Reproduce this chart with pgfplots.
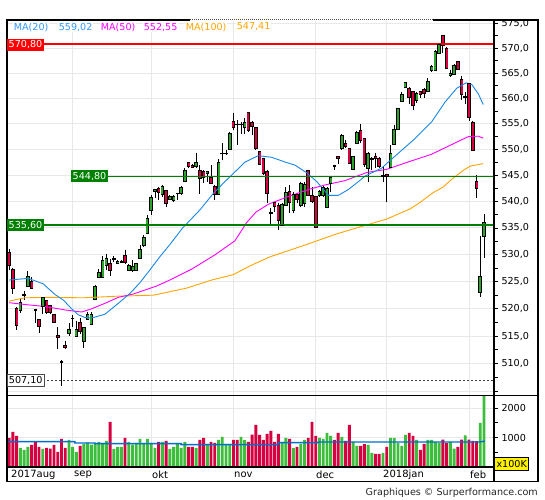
\documentclass[border=0pt]{standalone}
\usepackage{pgfplots}
\pgfplotsset{compat=1.18}
\usepackage{pgfplotstable}
\usepackage{fontspec}
\setmainfont{DejaVu Sans}
\definecolor{cgreen}{RGB}{45,165,45}
\definecolor{vgreen}{RGB}{60,190,60}
\definecolor{cred}{RGB}{214,0,64}
\definecolor{mablue}{RGB}{25,135,230}
\definecolor{lgblue}{RGB}{51,153,255}
\definecolor{mamag}{RGB}{255,0,255}
\definecolor{maorange}{RGB}{255,165,0}
\definecolor{vblue}{RGB}{0,110,205}
\definecolor{lvgreen}{RGB}{0,128,0}
\definecolor{gridc}{RGB}{232,232,232}
\newcommand\f{\fontsize{9.6bp}{11bp}\selectfont}
% daily candles: index, open, high, low, close, volume (x100K)
\pgfplotstableread{
i o h l c v
0 530.5 531.1 527.2 528.0 990
1 527.3 527.6 522.8 523.7 1195
2 520.0 520.3 516.2 516.9 1058
3 519.8 521.8 519.3 521.1 649
4 522.5 523.3 521.6 522.7 580
5 524.2 526.9 524.0 525.9 683
6 525.0 525.8 523.6 523.8 751
7 519.9 520.0 517.4 519.7 854
8 518.0 518.1 515.5 516.7 683
9 520.5 522.1 519.0 522.0 615
10 521.5 521.6 519.0 519.3 649
11 520.6 520.7 519.0 519.3 626
12 518.9 519.1 517.4 517.6 751
13 515.2 516.6 512.7 514.8 512
14 510.4 510.6 506.0 510.2 956
15 513.4 514.1 512.6 512.9 649
16 515.5 517.4 515.1 516.2 922
17 518.2 518.8 516.7 518.3 683
18 515.0 517.7 515.0 516.3 512
19 517.6 518.3 515.4 515.9 717
20 514.1 516.6 512.8 516.6 774
21 518.0 519.4 517.9 518.9 831
22 517.1 519.4 517.0 518.9 762
23 521.8 524.3 521.7 524.1 797
24 525.8 527.3 525.7 526.7 854
25 525.8 529.8 525.8 528.9 819
26 528.0 530.1 527.1 529.4 888
27 528.4 529.2 526.1 527.0 1536
28 529.2 529.7 528.6 529.4 615
29 528.4 528.9 528.3 528.8 683
30 528.6 529.0 528.5 528.8 683
31 529.9 530.9 528.3 528.6 990
32 527.0 528.3 526.9 528.0 854
33 527.1 529.0 526.8 527.8 762
34 527.0 528.5 526.9 528.4 819
35 529.3 531.8 529.1 531.0 956
36 531.7 533.7 531.4 533.2 797
37 534.0 537.4 533.9 536.8 956
38 538.3 541.3 537.5 540.8 819
39 542.0 542.4 540.6 542.4 649
40 542.6 542.8 540.3 541.7 854
41 541.4 543.1 540.9 542.9 854
42 542.1 542.3 539.0 539.7 888
43 540.5 541.2 540.3 540.9 615
44 540.2 541.2 540.0 540.9 683
45 541.5 541.7 540.3 541.6 819
46 541.6 543.0 541.2 542.7 649
47 543.8 546.4 543.8 546.0 854
48 547.5 547.6 546.4 546.7 683
49 547.0 547.2 546.4 546.6 683
50 546.7 549.4 546.4 547.6 649
51 545.9 547.0 541.4 544.4 922
52 545.8 546.0 543.6 544.6 990
53 545.4 545.9 543.8 545.8 785
54 544.6 547.0 543.4 543.5 854
55 543.0 543.2 540.3 541.3 819
56 541.3 548.1 541.3 547.6 922
57 549.2 551.2 548.0 549.3 1024
58 549.2 549.9 549.0 549.3 785
59 550.0 553.5 549.9 553.1 785
60 555.5 557.2 553.8 554.3 922
61 555.0 555.7 550.9 554.9 922
62 554.9 555.4 553.1 555.0 1024
63 554.3 556.1 553.1 555.2 915
64 557.2 557.2 553.5 553.7 854
65 555.2 555.6 552.9 554.6 1104
66 554.3 554.4 549.9 550.2 1434
67 549.6 549.7 547.0 547.2 1092
68 548.3 548.4 545.1 545.3 922
69 545.8 546.0 539.8 541.6 1127
70 538.0 538.7 535.5 537.8 1229
71 539.8 540.0 538.1 539.0 854
72 539.3 539.7 534.6 536.5 1127
73 535.5 539.7 535.4 539.5 854
74 539.3 542.8 539.1 541.7 990
75 541.9 543.2 537.9 539.8 956
76 538.4 541.9 537.8 541.4 649
77 541.4 541.6 539.7 540.4 683
78 539.3 543.8 539.0 543.5 785
79 539.7 543.8 538.9 543.3 922
80 546.0 546.1 541.1 541.2 990
81 541.1 542.8 539.7 540.0 1536
82 540.9 540.9 535.0 535.2 1058
83 541.2 542.2 540.9 541.9 990
84 541.1 543.2 540.9 542.8 956
85 538.9 542.8 538.7 542.5 1161
86 543.5 544.8 541.9 544.6 1058
87 546.9 547.0 546.0 546.7 922
88 548.7 548.7 547.3 548.3 1161
89 550.2 553.1 549.9 552.8 1024
90 551.3 551.8 550.3 550.6 888
91 550.2 550.3 547.2 547.3 1434
92 546.2 548.7 546.0 548.6 854
93 551.3 553.7 551.2 553.3 717
94 553.8 555.0 551.2 551.8 717
95 552.2 552.3 546.6 547.2 774
96 546.3 549.6 543.8 549.3 751
97 548.1 548.6 546.0 548.4 478
98 548.6 549.3 546.4 548.3 444
99 548.4 548.6 546.4 546.7 444
100 544.8 546.7 543.8 545.1 478
101 545.2 545.3 540.0 544.8 683
102 546.6 550.9 546.4 549.3 990
103 551.1 554.8 551.0 553.9 990
104 554.0 558.2 553.9 558.0 819
105 559.5 561.3 559.4 560.8 717
106 562.2 563.3 562.0 563.1 1092
107 562.0 562.3 559.0 560.2 1161
108 561.3 561.5 557.7 558.7 1058
109 559.7 561.3 559.2 561.1 922
110 561.3 561.5 560.0 560.9 580
111 561.7 562.0 560.0 561.0 785
112 561.5 564.0 561.3 563.3 922
113 565.6 566.6 565.3 566.4 922
114 565.6 569.6 565.5 569.3 854
115 569.0 571.0 568.8 570.8 819
116 572.6 572.6 569.0 570.6 932
117 569.9 570.2 565.8 566.0 816
118 564.5 565.7 564.2 565.0 850
119 564.8 566.8 564.6 566.6 625
120 567.3 567.5 565.6 565.8 682
121 563.8 564.4 559.8 560.8 932
122 560.2 561.2 559.0 560.4 1078
123 562.9 563.1 555.5 556.2 932
124 555.4 555.5 549.8 549.9 887
125 543.8 545.1 540.6 542.5 876
126 523.0 533.5 522.1 526.0 1500
127 533.5 537.6 529.3 536.0 2600
}\ohlc
\pgfplotstableread{
i p
0 521.4
4.2 522.0
10.9 522.1
19.8 522.0
28.8 522.3
38.6 522.5
47.5 523.8
54.2 525.3
60 526.3
64.4 527.9
69.8 529.6
78.7 531.7
87.6 533.9
101 536.7
107.2 538.6
109.4 539.6
113.4 541.7
116.1 542.8
118.4 544.3
121.5 546.0
123.3 546.8
126.8 547.3
}\mahundred
\pgfplotstableread{
i p
0 521.1
4.2 520.8
9.6 520.4
14.9 519.8
19.4 519.4
22.1 520.0
25.6 521.0
29.2 522.1
33.2 522.7
39.5 524.2
43 525.3
48.8 527.3
55.1 530.0
60.4 532.6
63.5 536.0
66 538.0
69.3 539.5
74.7 541.0
80 542.3
84.5 543.2
89.8 544.0
95.7 545.6
101 546.2
105.9 547.4
113 549.1
118.4 551.0
122.8 552.5
125.5 552.6
126.8 552.2
}\mafifty
\pgfplotstableread{
i p
0 525.3
5.1 525.6
9.1 524.6
12.3 522.6
14.5 521.6
16.7 520.0
18.5 518.9
20.3 518.4
22.1 518.3
25.6 519.0
29.2 521.0
32.3 522.8
35 524.8
37.7 527.2
40.3 529.6
43 531.9
46.4 535.0
51.1 538.5
54.5 541.5
57.7 543.8
63.1 547.6
66.6 548.8
70.2 548.5
73.8 547.6
76.5 547.0
79.6 545.5
82.3 543.8
85.4 541.2
88.0 541.2
90.7 542.3
93.4 543.8
95.2 544.9
99.6 546.4
104.1 549.3
108.5 552.1
113 555.4
116.6 559.3
119.7 562.0
122.2 563.1
123.7 562.8
125.5 560.9
126.8 558.8
}\matwenty
\pgfplotstableread{
i v
-0.5 863
17.6 863
17.6 816
23 816
23 795
46 795
46 761
72 761
72 829
82.7 829
82.7 850
126 850
127.2 884
}\vavg
\begin{document}
\begin{tikzpicture}
\begin{scope}[x=1bp,y=1bp]
\useasboundingbox (0,0) rectangle (545,-500);
\fill[white] (0,0) rectangle (545,-500);
\end{scope}
% ---------------- main price panel (logarithmic price scale: y = ln(price))
\begin{axis}[
  at={(7bp,-20bp)}, anchor=north west,
  scale only axis, width=487bp, height=375.5bp,
  xmin=-0.57, xmax=129.68,
  ymin=6.223230, ymax=6.355534,
  xtick={17,38,60,82,101,123}, xticklabels={}, xtick style={draw=none},
  xmajorgrids, ymajorgrids,
  major grid style={draw=gridc, line width=1bp},
  ytick={6.224558,6.234411,6.244167,6.253829,6.263398,6.272877,6.282267,6.291569,6.300786,6.309918,6.318968,6.327937,6.336826,6.345636,6.354370},
  yticklabels={,510{,}0,515{,}0,520{,}0,525{,}0,530{,}0,535{,}0,540{,}0,545{,}0,550{,}0,555{,}0,560{,}0,565{,}0,570{,}0,575{,}0},
  minor ytick={6.229497,6.239301,6.249009,6.258625,6.268149,6.277583,6.286929,6.296188,6.305362,6.314453,6.323462,6.332391,6.341241,6.350013},
  ytick pos=right, yticklabel pos=right,
  tick align=outside, major tick length=4bp, minor tick length=4bp,
  every tick/.style={black, line width=0.8bp},
  yticklabel style={font=\f, black},
  axis line style={black, line width=1.2bp},
  scaled y ticks=false,
]
% wicks
\addplot[draw=none, mark=none, forget plot,
  error bars/.cd, y dir=minus, y explicit, error mark=none,
  error bar style={draw=black, line width=0.9bp}]
  table[x=i, y expr={ln(\thisrow{h})}, y error minus expr={ln(\thisrow{h})-ln(\thisrow{l})}] {\ohlc};
% body outline
\addplot[draw=none, mark=none, forget plot,
  error bars/.cd, y dir=minus, y explicit, error mark=none,
  error bar style={draw=black, line width=3.6bp}]
  table[x=i, y expr={ln(max(\thisrow{o},\thisrow{c}))}, y error minus expr={abs(ln(\thisrow{o})-ln(\thisrow{c}))}] {\ohlc};
% body fill up
\addplot[draw=none, mark=none, forget plot, unbounded coords=discard,
  x filter/.expression={\thisrow{c}>=\thisrow{o} ? x : nan},
  error bars/.cd, y dir=minus, y explicit, error mark=none,
  error bar style={draw=cgreen, line width=2bp}]
  table[x=i, y expr={ln(\thisrow{c})}, y error minus expr={abs(ln(\thisrow{c})-ln(\thisrow{o}))}] {\ohlc};
% body fill down
\addplot[draw=none, mark=none, forget plot, unbounded coords=discard,
  x filter/.expression={\thisrow{c}<\thisrow{o} ? x : nan},
  error bars/.cd, y dir=minus, y explicit, error mark=none,
  error bar style={draw=cred, line width=2bp}]
  table[x=i, y expr={ln(\thisrow{o})}, y error minus expr={abs(ln(\thisrow{o})-ln(\thisrow{c}))}] {\ohlc};
% body top/bottom edges
\addplot[only marks, mark=-, mark size=1.8bp, mark options={draw=black, line width=0.8bp}, forget plot]
  table[x=i, y expr={ln(\thisrow{o})}] {\ohlc};
\addplot[only marks, mark=-, mark size=1.8bp, mark options={draw=black, line width=0.8bp}, forget plot]
  table[x=i, y expr={ln(\thisrow{c})}] {\ohlc};
% moving averages
\addplot[maorange, line width=0.9bp, mark=none] table[x=i, y expr={ln(\thisrow{p})}] {\mahundred};
\addplot[mamag, line width=0.9bp, mark=none] table[x=i, y expr={ln(\thisrow{p})}] {\mafifty};
\addplot[mablue, line width=0.9bp, mark=none] table[x=i, y expr={ln(\thisrow{p})}] {\matwenty};
% level lines
\addplot[red, line width=2bp, mark=none] table[row sep=\\, x=i, y expr={ln(\thisrow{p})}] {i p\\ 9.06 570.8\\ 129.68 570.8\\};
\addplot[lvgreen, line width=1bp, mark=none] table[row sep=\\, x=i, y expr={ln(\thisrow{p})}] {i p\\ 26.44 544.8\\ 129.68 544.8\\};
\addplot[lvgreen, line width=2.6bp, mark=none] table[row sep=\\, x=i, y expr={ln(\thisrow{p})}] {i p\\ 9.06 535.6\\ 129.68 535.6\\};
\addplot[black!75, line width=0.8bp, dash pattern=on 2bp off 2bp, mark=none] table[row sep=\\, x=i, y expr={ln(\thisrow{p})}] {i p\\ 9.06 507.1\\ 129.68 507.1\\};
\end{axis}
% ---------------- volume panel
\begin{axis}[
  at={(7bp,-395.5bp)}, anchor=north west,
  scale only axis, width=487bp, height=71.5bp,
  xmin=-0.57, xmax=129.68,
  ymin=0, ymax=2430,
  xtick={17,38,60,82,101,123}, xticklabels={}, xtick style={draw=none},
  xmajorgrids, ymajorgrids,
  major grid style={draw=gridc, line width=1bp},
  ytick={1000,2000}, yticklabels={1000,2000},
  minor ytick={500,1500},
  ytick pos=right, yticklabel pos=right,
  tick align=outside, major tick length=4bp, minor tick length=4bp,
  every tick/.style={black, line width=0.8bp},
  yticklabel style={font=\f, black},
  axis line style={black, line width=1.2bp},
  scaled y ticks=false,
]
\addplot[ybar, bar width=2.9bp, bar shift=0pt, fill=vgreen, draw=none, unbounded coords=discard,
  x filter/.expression={\thisrow{c}>=\thisrow{o} ? x : nan}]
  table[x=i, y=v] {\ohlc};
\addplot[ybar, bar width=2.9bp, bar shift=0pt, fill=cred, draw=none, unbounded coords=discard,
  x filter/.expression={\thisrow{c}<\thisrow{o} ? x : nan}]
  table[x=i, y=v] {\ohlc};
\addplot[vblue, line width=1.4bp, mark=none] table[x=i, y=v] {\vavg};
\end{axis}
% ---------------- frame and annotations
\begin{scope}[x=1bp,y=1bp]
\draw[black, line width=1.2bp] (7,-20) rectangle (538,-481.7);
\draw[black, line width=1.2bp] (494,-20) -- (494,-481.7);
\draw[black, line width=1.2bp] (7,-395.5) -- (538,-395.5);
\draw[black, line width=1.2bp] (7,-467) -- (494,-467);
\draw[white, line width=1.6bp] (190,-20) -- (433,-20);
\draw[black!70, line width=1bp, dash pattern=on 1bp off 1bp] (190,-20) -- (433,-20);
% legend
\begin{scope}[every node/.style={font=\f, inner sep=0.6bp, fill=white, anchor=west}]
\node[text=lgblue] at (13,-27) {MA(20)};
\node[text=lgblue] at (58,-27) {559,02};
\node[text=mamag] at (100,-27) {MA(50)};
\node[text=mamag] at (143,-27) {552,55};
\node[text=maorange] at (185,-27) {MA(100)};
\node[text=maorange] at (236,-27) {547,41};
\end{scope}
% level labels
\begin{scope}[every node/.style={font=\f, inner xsep=1.5bp, inner ysep=0pt, minimum height=12bp, anchor=west}]
\node[fill=red, text=white] at (7,-44.7) {570,80};
\node[fill=lvgreen, text=white] at (71,-176.4) {544,80};
\node[fill=lvgreen, text=white] at (7,-225.3) {535,60};
\node[fill=white, draw=black!70, line width=0.8bp, text=black] at (7,-380) {507,10};
\end{scope}
% month labels
\begin{scope}[every node/.style={font=\fontsize{10bp}{11bp}\selectfont, inner sep=0pt, anchor=west, text=black}]
\node at (11,-474.5) {2017aug};
\node at (74,-474.5) {sep};
\node at (152,-474.5) {okt};
\node at (234,-474.5) {nov};
\node at (316,-474.5) {dec};
\node at (383,-474.5) {2018jan};
\node at (470,-474.5) {feb};
\end{scope}
\node[font=\f, draw=black, line width=0.8bp, fill=yellow, inner sep=0.6bp, minimum width=34bp, minimum height=13bp, anchor=north west] at (494.3,-456.7) {x100K};
\node[font=\f, text=black!85, anchor=base east, inner sep=0pt] at (538,-495) {Graphiques © Surperformance.com};
\end{scope}
\end{tikzpicture}
\end{document}
